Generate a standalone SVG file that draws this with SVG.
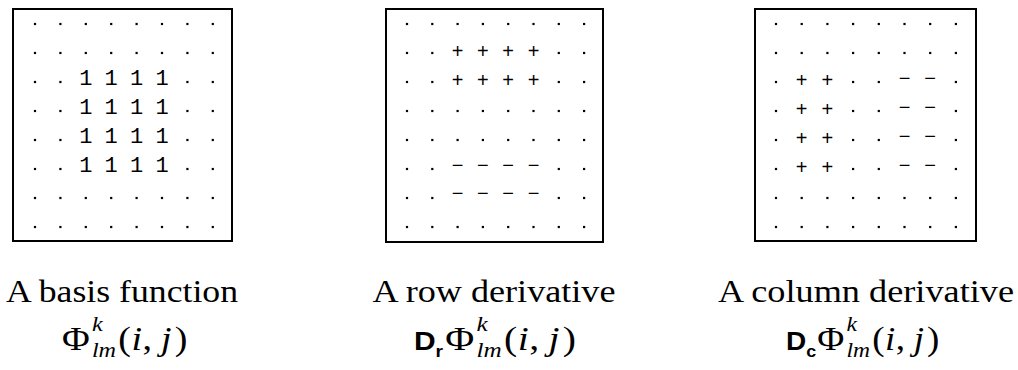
<svg xmlns="http://www.w3.org/2000/svg" xmlns:xlink="http://www.w3.org/1999/xlink" width="1018" height="370" viewBox="0 0 1018 370">
<style>
.box{fill:none;stroke:#000;stroke-width:2}
.one{font-family:"Liberation Mono",monospace;font-size:22px;text-anchor:middle;fill:#000}
.pm{font-family:"Liberation Sans",sans-serif;font-size:20px;text-anchor:middle;fill:#000}
.cap{font-family:"Liberation Serif",serif;font-size:32px;text-anchor:middle;fill:#000}
.m{font-family:"Liberation Serif",serif;font-size:33px;fill:#000}
.mi{font-family:"Liberation Serif",serif;font-size:33px;font-style:italic;fill:#000}
.sc{font-family:"Liberation Serif",serif;font-size:21px;font-style:italic;fill:#000}
.D{font-family:"Liberation Sans",sans-serif;font-size:25px;font-weight:bold;fill:#000}
.Ds{font-family:"Liberation Sans",sans-serif;font-size:16px;font-weight:bold;fill:#000}
</style>
<defs>
<rect id="d" x="-1.1" y="-1.1" width="2.2" height="2.2" fill="#000"/>
<g id="phi">
<text class="m" x="0" y="0">Φ</text>
<text class="sc" x="26" y="-19">k</text>
<text class="sc" x="26" y="7">lm</text>
<text class="m" x="49" y="0">(</text>
<text class="mi" x="60.5" y="0">i</text>
<text class="m" x="70" y="0">,</text>
<text class="mi" x="86" y="0">j</text>
<text class="m" x="98" y="0">)</text>
</g>
</defs>
<rect width="1018" height="370" fill="#fff"/>

<g id="basis">
<rect class="box" x="13" y="9" width="219" height="232"/>
<g id="basis-dots">
<use xlink:href="#d" x="35" y="24"/><use xlink:href="#d" x="60.4" y="24"/><use xlink:href="#d" x="85.8" y="24"/><use xlink:href="#d" x="111.2" y="24"/><use xlink:href="#d" x="136.6" y="24"/><use xlink:href="#d" x="162" y="24"/><use xlink:href="#d" x="187.4" y="24"/><use xlink:href="#d" x="212.8" y="24"/>
<use xlink:href="#d" x="35" y="53"/><use xlink:href="#d" x="60.4" y="53"/><use xlink:href="#d" x="85.8" y="53"/><use xlink:href="#d" x="111.2" y="53"/><use xlink:href="#d" x="136.6" y="53"/><use xlink:href="#d" x="162" y="53"/><use xlink:href="#d" x="187.4" y="53"/><use xlink:href="#d" x="212.8" y="53"/>
<use xlink:href="#d" x="35" y="82"/><use xlink:href="#d" x="60.4" y="82"/><use xlink:href="#d" x="187.4" y="82"/><use xlink:href="#d" x="212.8" y="82"/>
<use xlink:href="#d" x="35" y="111"/><use xlink:href="#d" x="60.4" y="111"/><use xlink:href="#d" x="187.4" y="111"/><use xlink:href="#d" x="212.8" y="111"/>
<use xlink:href="#d" x="35" y="140"/><use xlink:href="#d" x="60.4" y="140"/><use xlink:href="#d" x="187.4" y="140"/><use xlink:href="#d" x="212.8" y="140"/>
<use xlink:href="#d" x="35" y="169"/><use xlink:href="#d" x="60.4" y="169"/><use xlink:href="#d" x="187.4" y="169"/><use xlink:href="#d" x="212.8" y="169"/>
<use xlink:href="#d" x="35" y="198"/><use xlink:href="#d" x="60.4" y="198"/><use xlink:href="#d" x="85.8" y="198"/><use xlink:href="#d" x="111.2" y="198"/><use xlink:href="#d" x="136.6" y="198"/><use xlink:href="#d" x="162" y="198"/><use xlink:href="#d" x="187.4" y="198"/><use xlink:href="#d" x="212.8" y="198"/>
<use xlink:href="#d" x="35" y="227"/><use xlink:href="#d" x="60.4" y="227"/><use xlink:href="#d" x="85.8" y="227"/><use xlink:href="#d" x="111.2" y="227"/><use xlink:href="#d" x="136.6" y="227"/><use xlink:href="#d" x="162" y="227"/><use xlink:href="#d" x="187.4" y="227"/><use xlink:href="#d" x="212.8" y="227"/>
</g>
<g id="basis-ones">
<text class="one" x="85.8" y="85">1</text><text class="one" x="111.2" y="85">1</text><text class="one" x="136.6" y="85">1</text><text class="one" x="162" y="85">1</text>
<text class="one" x="85.8" y="114">1</text><text class="one" x="111.2" y="114">1</text><text class="one" x="136.6" y="114">1</text><text class="one" x="162" y="114">1</text>
<text class="one" x="85.8" y="143">1</text><text class="one" x="111.2" y="143">1</text><text class="one" x="136.6" y="143">1</text><text class="one" x="162" y="143">1</text>
<text class="one" x="85.8" y="172">1</text><text class="one" x="111.2" y="172">1</text><text class="one" x="136.6" y="172">1</text><text class="one" x="162" y="172">1</text>
</g>
<text class="cap" x="122" y="302" textLength="232" lengthAdjust="spacingAndGlyphs">A basis function</text>
<g transform="translate(62,350) scale(1.15,1)"><use xlink:href="#phi"/></g>
</g>

<g id="row-derivative">
<rect class="box" x="386" y="9" width="217" height="233"/>
<g id="row-dots">
<use xlink:href="#d" x="407" y="24"/><use xlink:href="#d" x="432.3" y="24"/><use xlink:href="#d" x="457.6" y="24"/><use xlink:href="#d" x="482.9" y="24"/><use xlink:href="#d" x="508.2" y="24"/><use xlink:href="#d" x="533.5" y="24"/><use xlink:href="#d" x="558.8" y="24"/><use xlink:href="#d" x="584.1" y="24"/>
<use xlink:href="#d" x="407" y="53"/><use xlink:href="#d" x="432.3" y="53"/><use xlink:href="#d" x="558.8" y="53"/><use xlink:href="#d" x="584.1" y="53"/>
<use xlink:href="#d" x="407" y="82"/><use xlink:href="#d" x="432.3" y="82"/><use xlink:href="#d" x="558.8" y="82"/><use xlink:href="#d" x="584.1" y="82"/>
<use xlink:href="#d" x="407" y="111"/><use xlink:href="#d" x="432.3" y="111"/><use xlink:href="#d" x="457.6" y="111"/><use xlink:href="#d" x="482.9" y="111"/><use xlink:href="#d" x="508.2" y="111"/><use xlink:href="#d" x="533.5" y="111"/><use xlink:href="#d" x="558.8" y="111"/><use xlink:href="#d" x="584.1" y="111"/>
<use xlink:href="#d" x="407" y="140"/><use xlink:href="#d" x="432.3" y="140"/><use xlink:href="#d" x="457.6" y="140"/><use xlink:href="#d" x="482.9" y="140"/><use xlink:href="#d" x="508.2" y="140"/><use xlink:href="#d" x="533.5" y="140"/><use xlink:href="#d" x="558.8" y="140"/><use xlink:href="#d" x="584.1" y="140"/>
<use xlink:href="#d" x="407" y="169"/><use xlink:href="#d" x="432.3" y="169"/><use xlink:href="#d" x="558.8" y="169"/><use xlink:href="#d" x="584.1" y="169"/>
<use xlink:href="#d" x="407" y="198"/><use xlink:href="#d" x="432.3" y="198"/><use xlink:href="#d" x="558.8" y="198"/><use xlink:href="#d" x="584.1" y="198"/>
<use xlink:href="#d" x="407" y="227"/><use xlink:href="#d" x="432.3" y="227"/><use xlink:href="#d" x="457.6" y="227"/><use xlink:href="#d" x="482.9" y="227"/><use xlink:href="#d" x="508.2" y="227"/><use xlink:href="#d" x="533.5" y="227"/><use xlink:href="#d" x="558.8" y="227"/><use xlink:href="#d" x="584.1" y="227"/>
</g>
<g id="row-signs">
<text class="pm" x="457.6" y="58">+</text><text class="pm" x="482.9" y="58">+</text><text class="pm" x="508.2" y="58">+</text><text class="pm" x="533.5" y="58">+</text>
<text class="pm" x="457.6" y="87">+</text><text class="pm" x="482.9" y="87">+</text><text class="pm" x="508.2" y="87">+</text><text class="pm" x="533.5" y="87">+</text>
<text class="pm" x="457.6" y="172">−</text><text class="pm" x="482.9" y="172">−</text><text class="pm" x="508.2" y="172">−</text><text class="pm" x="533.5" y="172">−</text>
<text class="pm" x="457.6" y="200">−</text><text class="pm" x="482.9" y="200">−</text><text class="pm" x="508.2" y="200">−</text><text class="pm" x="533.5" y="200">−</text>
</g>
<text class="cap" x="494" y="302" textLength="243" lengthAdjust="spacingAndGlyphs">A row derivative</text>
<g transform="translate(414,350) scale(1.2,1)">
<text class="D" x="0" y="0">D</text>
<text class="Ds" x="18" y="7">r</text>
<use xlink:href="#phi" x="26"/>
</g>
</g>

<g id="column-derivative">
<rect class="box" x="755" y="9" width="221" height="232"/>
<g id="col-dots">
<use xlink:href="#d" x="776" y="24"/><use xlink:href="#d" x="801.7" y="24"/><use xlink:href="#d" x="827.4" y="24"/><use xlink:href="#d" x="853.1" y="24"/><use xlink:href="#d" x="878.8" y="24"/><use xlink:href="#d" x="904.5" y="24"/><use xlink:href="#d" x="930.2" y="24"/><use xlink:href="#d" x="955.9" y="24"/>
<use xlink:href="#d" x="776" y="53"/><use xlink:href="#d" x="801.7" y="53"/><use xlink:href="#d" x="827.4" y="53"/><use xlink:href="#d" x="853.1" y="53"/><use xlink:href="#d" x="878.8" y="53"/><use xlink:href="#d" x="904.5" y="53"/><use xlink:href="#d" x="930.2" y="53"/><use xlink:href="#d" x="955.9" y="53"/>
<use xlink:href="#d" x="776" y="82"/><use xlink:href="#d" x="853.1" y="82"/><use xlink:href="#d" x="878.8" y="82"/><use xlink:href="#d" x="955.9" y="82"/>
<use xlink:href="#d" x="776" y="111"/><use xlink:href="#d" x="853.1" y="111"/><use xlink:href="#d" x="878.8" y="111"/><use xlink:href="#d" x="955.9" y="111"/>
<use xlink:href="#d" x="776" y="140"/><use xlink:href="#d" x="853.1" y="140"/><use xlink:href="#d" x="878.8" y="140"/><use xlink:href="#d" x="955.9" y="140"/>
<use xlink:href="#d" x="776" y="169"/><use xlink:href="#d" x="853.1" y="169"/><use xlink:href="#d" x="878.8" y="169"/><use xlink:href="#d" x="955.9" y="169"/>
<use xlink:href="#d" x="776" y="198"/><use xlink:href="#d" x="801.7" y="198"/><use xlink:href="#d" x="827.4" y="198"/><use xlink:href="#d" x="853.1" y="198"/><use xlink:href="#d" x="878.8" y="198"/><use xlink:href="#d" x="904.5" y="198"/><use xlink:href="#d" x="930.2" y="198"/><use xlink:href="#d" x="955.9" y="198"/>
<use xlink:href="#d" x="776" y="227"/><use xlink:href="#d" x="801.7" y="227"/><use xlink:href="#d" x="827.4" y="227"/><use xlink:href="#d" x="853.1" y="227"/><use xlink:href="#d" x="878.8" y="227"/><use xlink:href="#d" x="904.5" y="227"/><use xlink:href="#d" x="930.2" y="227"/><use xlink:href="#d" x="955.9" y="227"/>
</g>
<g id="col-signs">
<text class="pm" x="801.7" y="87">+</text><text class="pm" x="827.4" y="87">+</text><text class="pm" x="904.5" y="85">−</text><text class="pm" x="930.2" y="85">−</text>
<text class="pm" x="801.7" y="116">+</text><text class="pm" x="827.4" y="116">+</text><text class="pm" x="904.5" y="114">−</text><text class="pm" x="930.2" y="114">−</text>
<text class="pm" x="801.7" y="145">+</text><text class="pm" x="827.4" y="145">+</text><text class="pm" x="904.5" y="143">−</text><text class="pm" x="930.2" y="143">−</text>
<text class="pm" x="801.7" y="174">+</text><text class="pm" x="827.4" y="174">+</text><text class="pm" x="904.5" y="172">−</text><text class="pm" x="930.2" y="172">−</text>
</g>
<text class="cap" x="866" y="302" textLength="296" lengthAdjust="spacingAndGlyphs">A column derivative</text>
<g transform="translate(786,350) scale(1.12,1)">
<text class="D" x="0" y="0">D</text>
<text class="Ds" x="18" y="7">c</text>
<use xlink:href="#phi" x="28"/>
</g>
</g>

<g id="connectors"/>
</svg>
